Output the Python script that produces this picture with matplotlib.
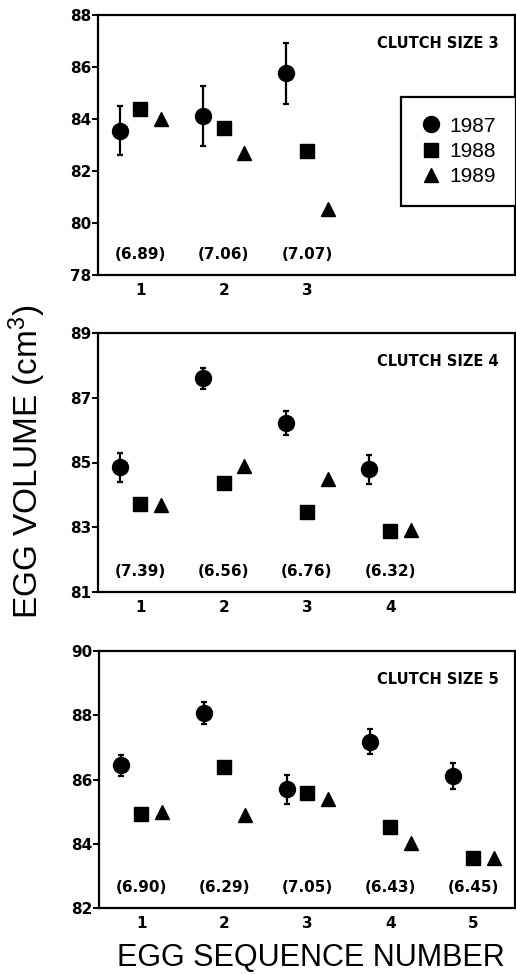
import matplotlib
matplotlib.use("Agg")
import matplotlib.pyplot as plt
import numpy as np

# ---------------- data ----------------
years = ["1987", "1988", "1989"]

cs3_seq = [1, 2, 3]
cs3_1987 = [83.55, 84.10, 85.75]
cs3_1987_err = [0.94, 1.15, 1.19]
cs3_1988 = [84.38, 83.65, 82.75]
cs3_1989 = [84.00, 82.68, 80.53]
cs3_cv = ["(6.89)", "(7.06)", "(7.07)"]

cs4_seq = [1, 2, 3, 4]
cs4_1987 = [84.85, 87.60, 86.22, 84.79]
cs4_1987_err = [0.44, 0.32, 0.38, 0.44]
cs4_1988 = [83.72, 84.36, 83.48, 82.87]
cs4_1989 = [83.70, 84.88, 84.50, 82.92]
cs4_cv = ["(7.39)", "(6.56)", "(6.76)", "(6.32)"]

cs5_seq = [1, 2, 3, 4, 5]
cs5_1987 = [86.44, 88.07, 85.70, 87.18, 86.11]
cs5_1987_err = [0.33, 0.33, 0.45, 0.40, 0.40]
cs5_1988 = [84.92, 86.40, 85.57, 84.53, 83.57]
cs5_1989 = [84.98, 84.90, 85.39, 84.02, 83.57]
cs5_cv = ["(6.90)", "(6.29)", "(7.05)", "(6.43)", "(6.45)"]

panel_titles = ["CLUTCH SIZE 3", "CLUTCH SIZE 4", "CLUTCH SIZE 5"]
panel_ylims = [(78, 88), (81, 89), (82, 90)]
panel_yticks = [[78, 80, 82, 84, 86, 88], [81, 83, 85, 87, 89], [82, 84, 86, 88, 90]]

# ---------------- figure ----------------
W, H = 516, 974
fig = plt.figure(figsize=(W / 100, H / 100), dpi=100)

label_font = ["Liberation Sans Narrow", "Liberation Sans", "DejaVu Sans"]

panels = [
    (cs3_seq, cs3_1987, cs3_1987_err, cs3_1988, cs3_1989, cs3_cv),
    (cs4_seq, cs4_1987, cs4_1987_err, cs4_1988, cs4_1989, cs4_cv),
    (cs5_seq, cs5_1987, cs5_1987_err, cs5_1988, cs5_1989, cs5_cv),
]
# axes boxes in pixels: left, right, top, bottom
boxes = [(98, 515, 15, 275), (98, 515, 333, 592), (99, 515, 651, 908)]

off = 0.25
for i, (seq, y87, e87, y88, y89, cv) in enumerate(panels):
    l, r, t, b = boxes[i]
    ax = fig.add_axes([l / W, 1 - b / H, (r - l) / W, (b - t) / H])
    x = np.array(seq, dtype=float)
    ax.errorbar(x - off, y87, yerr=e87, fmt="none", ecolor="black",
                elinewidth=1.6, capsize=2.2, capthick=1.6, zorder=2)
    ax.plot(x - off, y87, "o", color="black", markersize=11.5, label=years[0], zorder=3)
    ax.plot(x, y88, "s", color="black", markersize=10, label=years[1], zorder=3)
    ax.plot(x + off, y89, "^", color="black", markersize=10.5, label=years[2], zorder=3)

    for xi, s in zip(x, cv):
        ax.text(xi, 0.08, s, transform=ax.get_xaxis_transform(), ha="center",
                va="center", fontsize=11, fontweight="bold", family="DejaVu Sans")

    ax.text(0.96, 0.89, panel_titles[i], transform=ax.transAxes, ha="right",
            va="center", fontsize=10.5, fontweight="bold", family="DejaVu Sans")

    ax.set_xlim(0.49, 5.5)
    ax.set_ylim(*panel_ylims[i])
    ax.set_yticks(panel_yticks[i])
    ax.set_xticks(seq)
    ax.set_xticklabels([str(s) for s in seq])
    for sp in ax.spines.values():
        sp.set_linewidth(1.6)
    ax.tick_params(axis="y", direction="out", length=4, width=1.4, pad=1,
                   labelsize=11)
    ax.tick_params(axis="x", length=0, pad=6, labelsize=11)
    for lab in ax.get_xticklabels() + ax.get_yticklabels():
        lab.set_fontweight("bold")

    if i == 0:
        leg = ax.legend(loc="center", bbox_to_anchor=(0.864, 0.475), frameon=True,
                        fancybox=False, edgecolor="black", framealpha=1,
                        prop={"family": label_font, "size": 15},
                        handletextpad=0.4, handlelength=1.0, borderpad=0.95,
                        labelspacing=0.3, borderaxespad=0)
        leg.get_frame().set_linewidth(1.6)

fig.text(311 / W, 1 - 958 / H, "EGG SEQUENCE NUMBER", ha="center", va="center",
         fontsize=22, family=label_font)
fig.text(27 / W, 1 - 462 / H, r"EGG VOLUME (cm$\mathregular{^3}$)", ha="center",
         va="center", rotation=90, fontsize=24, family=label_font)

fig.savefig("out.png", dpi=100)
